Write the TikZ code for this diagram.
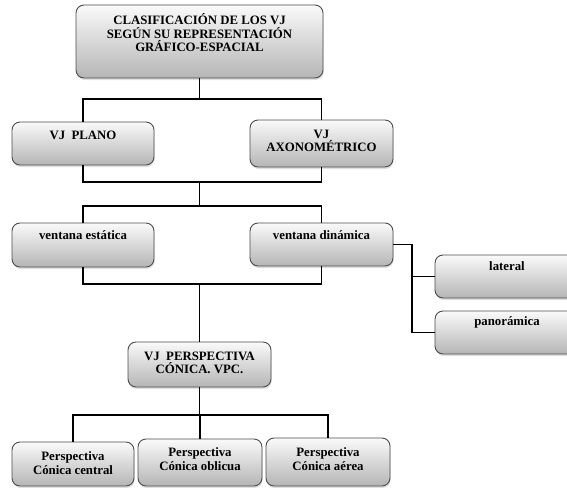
\documentclass[tikz,border=0pt]{standalone}
\usepackage{fontspec}
\setmainfont{Liberation Serif}
\usetikzlibrary{positioning,shadows}
\tikzset{
  box/.style={draw=gray!60!black, line width=0.9pt, rounded corners=8pt, top color=gray!4, bottom color=gray!58,
    drop shadow={shadow xshift=0.6pt, shadow yshift=-2pt, opacity=0.25}, inner sep=0pt},
  lbl/.style={font=\bfseries\fontsize{12.8}{13.6}\selectfont, align=center, inner sep=0pt},
  conn/.style={line width=1.4pt, black}
}

\begin{document}
\begin{tikzpicture}[x=1pt,y=-1pt]
   \useasboundingbox (0,0) rectangle (567,487);
   % boxes
   \node[box, minimum width=247pt, minimum height=73pt] (top) at (199.5,41.5) {};
   \node[box, minimum width=142pt, minimum height=43pt] (plano) at (83,143.5) {};
   \node[box, minimum width=143pt, minimum height=47pt] (axono) at (321.5,143.5) {};
   \node[box, minimum width=142pt, minimum height=44pt] (estatica) at (83,245) {};
   \node[box, minimum width=143pt, minimum height=43pt] (dinamica) at (321.5,244.5) {};
   \node[box, minimum width=144pt, minimum height=43pt] (lateral) at (507,276.5) {};
   \node[box, minimum width=144pt, minimum height=43pt] (panoramica) at (507,332.5) {};
   \node[box, minimum width=143pt, minimum height=45pt] (vpc) at (199.5,364.5) {};
   \node[box, minimum width=122pt, minimum height=44pt] (pcc) at (73,464) {};
   \node[box, minimum width=124pt, minimum height=47pt] (pco) at (200,462.5) {};
   \node[box, minimum width=124pt, minimum height=48pt] (pca) at (328,462) {};

   % texts
   \node[lbl, below=9pt of top.north] (ttop) {CLASIFICACIÓN DE LOS VJ\\SEGÚN SU REPRESENTACIÓN\\GRÁFICO-ESPACIAL};
   \node[lbl, below=9pt of plano.north] (tplano) {VJ\ \ PLANO};
   \node[lbl, below=10pt of axono.north] (taxono) {VJ\\AXONOMÉTRICO};
   \node[lbl, below=8pt of estatica.north] (testatica) {ventana estática};
   \node[lbl, below=8pt of dinamica.north] (tdinamica) {ventana dinámica};
   \node[lbl, below=7pt of lateral.north] (tlateral) {lateral};
   \node[lbl, below=6pt of panoramica.north] (tpanoramica) {panorámica};
   \node[lbl, below=10pt of vpc.north] (tvpc) {VJ\ \ PERSPECTIVA\\CÓNICA. VPC.};
   \node[lbl, below=10pt of pcc.north] (tpcc) {Perspectiva\\Cónica central};
   \node[lbl, below=9pt of pco.north] (tpco) {Perspectiva\\Cónica oblicua};
   \node[lbl, below=10pt of pca.north] (tpca) {Perspectiva\\Cónica aérea};

   % connectors
   \coordinate (bus1) at (0,99);
   \coordinate (bus2) at (0,182);
   \coordinate (bus3) at (0,206);
   \coordinate (bus4) at (0,284);
   \coordinate (bus5) at (0,415);
   \coordinate (side) at (412,0);
   \draw[conn] (top.south) -- (top.south |- bus1);
   \draw[conn] (plano.north) |- (axono.north |- bus1) -- (axono.north);
   \draw[conn] (plano.south) |- (axono.south |- bus2) -- (axono.south);
   \draw[conn] (top.south |- bus2) -- (top.south |- bus3);
   \draw[conn] (estatica.north) |- (dinamica.north |- bus3) -- (dinamica.north);
   \draw[conn] (estatica.south) |- (dinamica.south |- bus4) -- (dinamica.south);
   \draw[conn] (vpc.north |- bus4) -- (vpc.north);
   \draw[conn] (dinamica.east) -| (side |- panoramica.west) -- (panoramica.west);
   \draw[conn] (side |- lateral.west) -- (lateral.west);
   \draw[conn] (vpc.south) -- (vpc.south |- bus5);
   \draw[conn] (pcc.north) |- (pca.north |- bus5) -- (pca.north);
   \draw[conn] (pco.north |- bus5) -- (pco.north);
\end{tikzpicture}
\end{document}
